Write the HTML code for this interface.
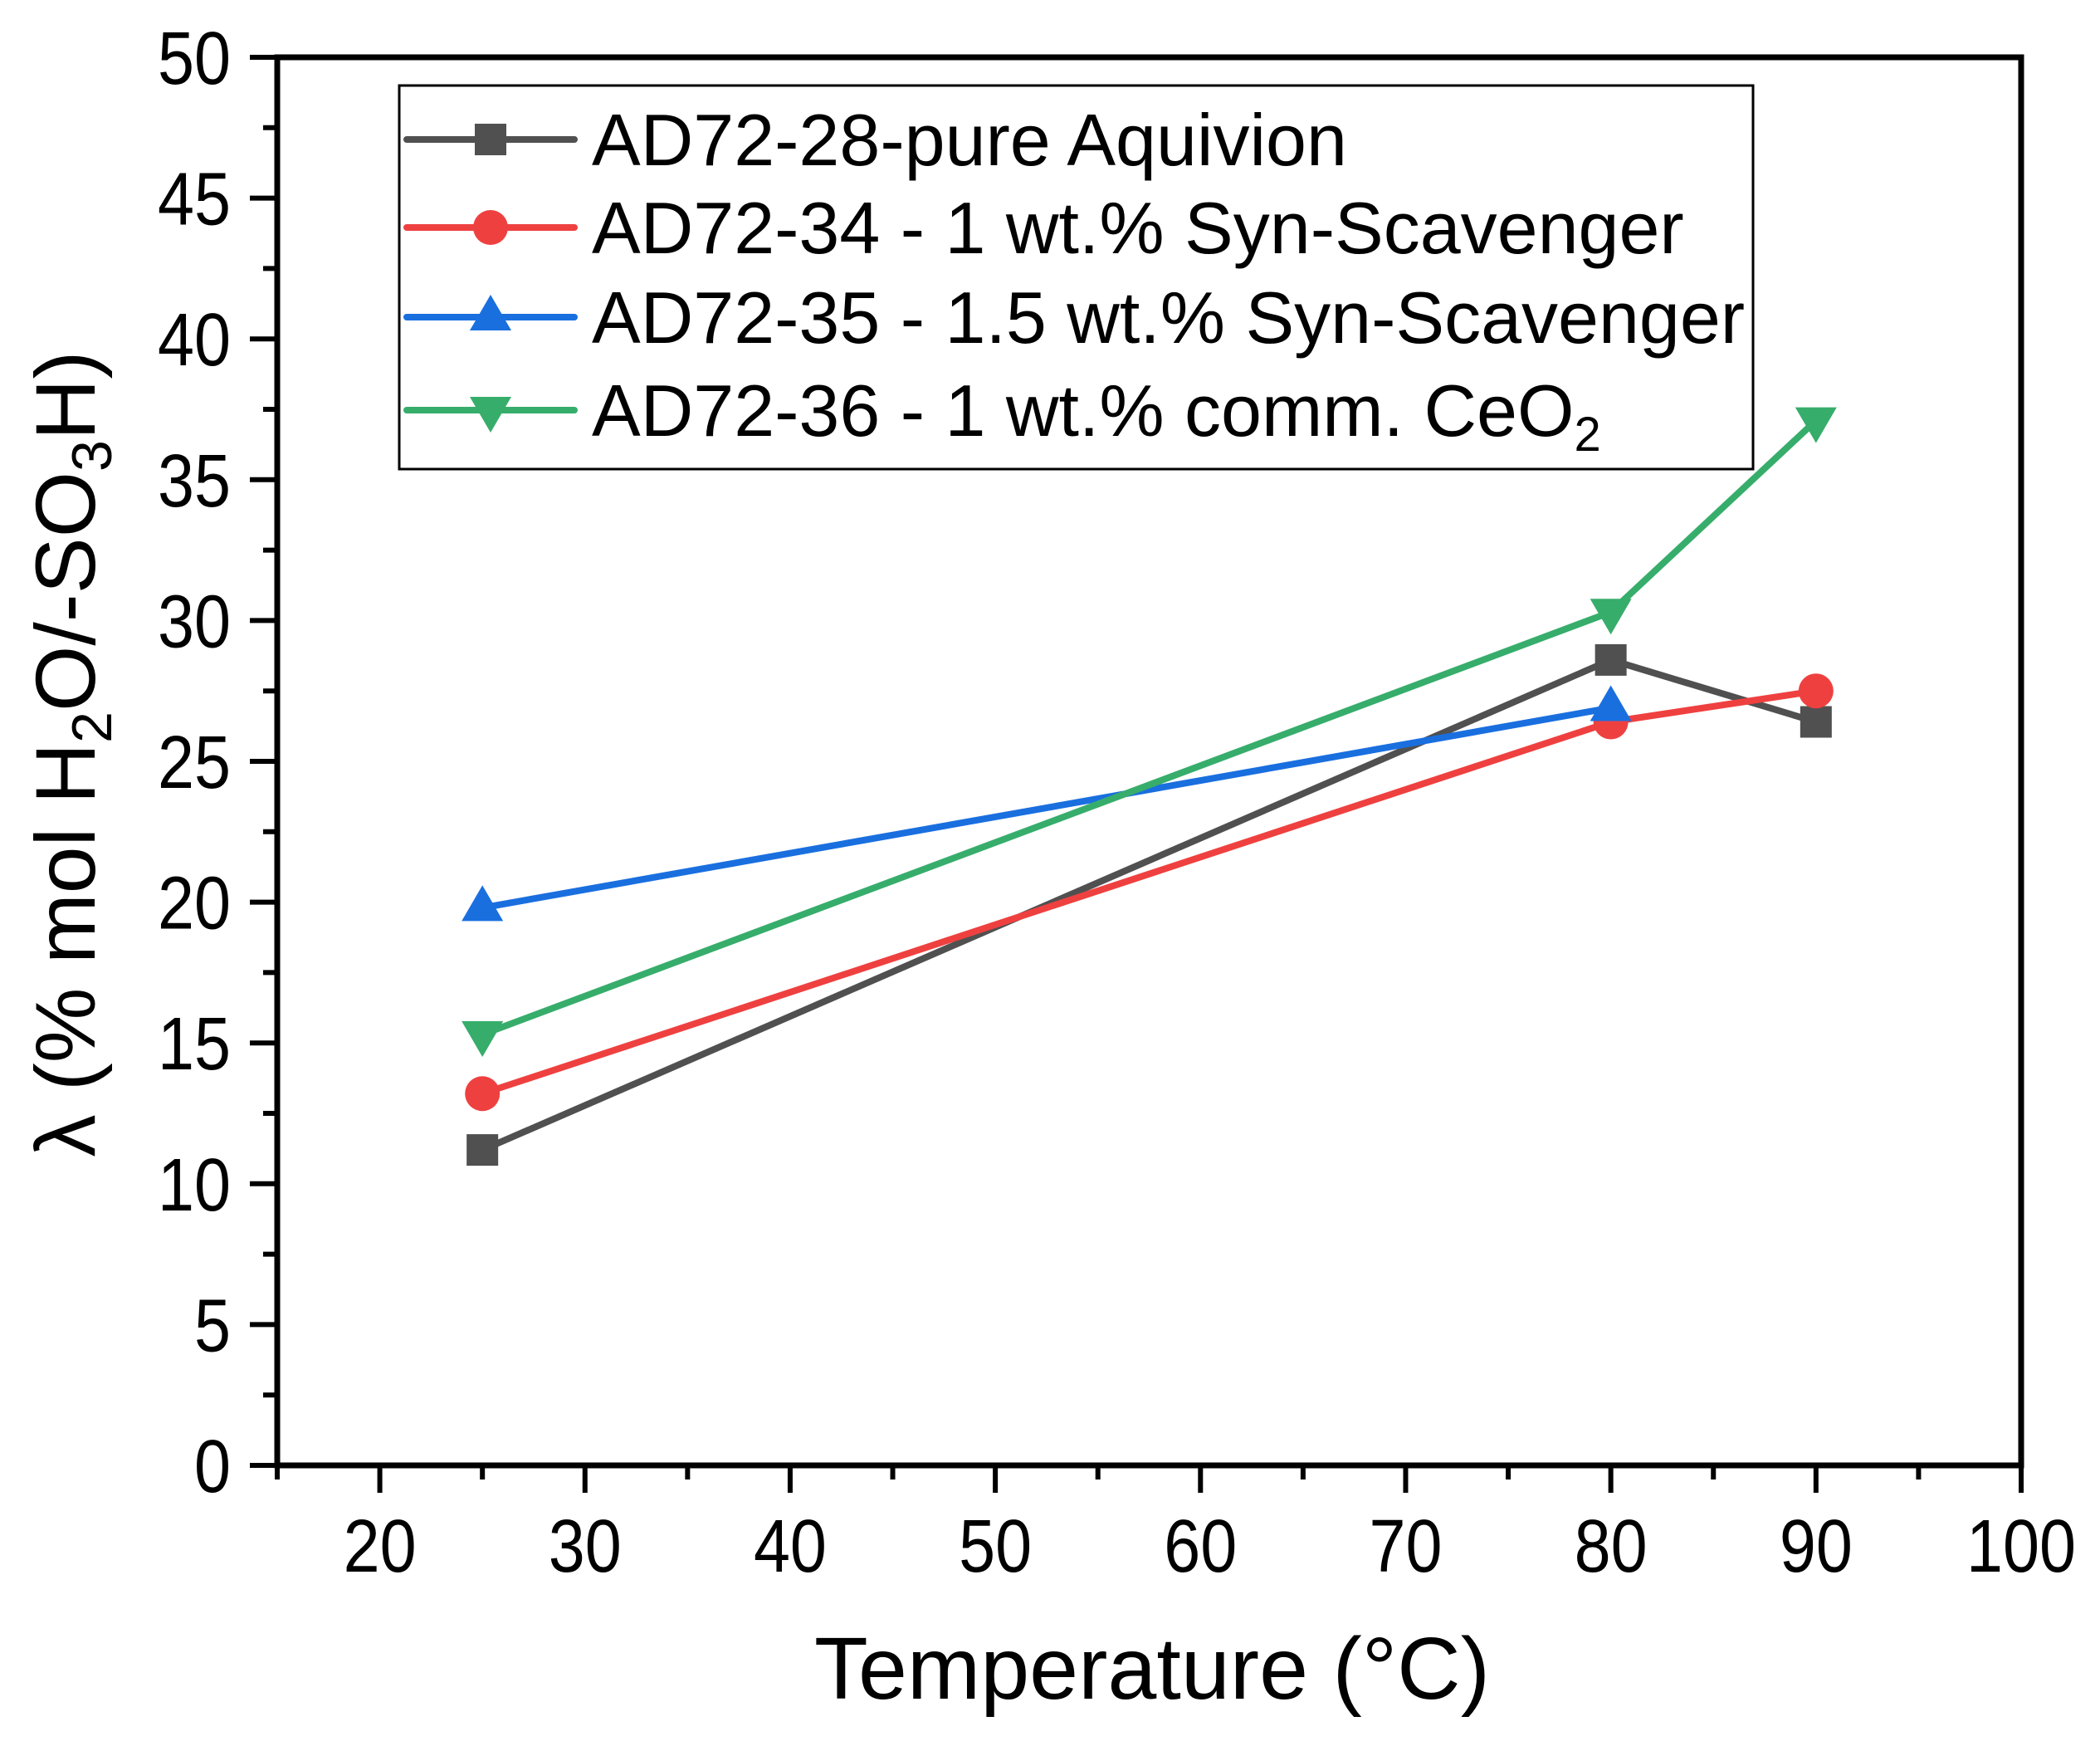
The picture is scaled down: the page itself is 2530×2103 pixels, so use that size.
<!DOCTYPE html>
<html><head><meta charset="utf-8"><style>
html,body{margin:0;padding:0;background:#fff}
svg{display:block;font-family:"Liberation Sans",Arial,sans-serif}
</style></head><body>
<svg id="chart" width="2530" height="2103" viewBox="0 0 2530 2103" xmlns="http://www.w3.org/2000/svg">
<rect width="2530" height="2103" fill="#fff"/>
<g id="plot"></g>
<g id="axes"></g>
<text x="1388" y="2046" font-size="106" text-anchor="middle">Temperature (°C)</text>
<text transform="translate(114,908) rotate(-90)" font-size="102" text-anchor="middle">λ (% mol H<tspan font-size="68" dy="20">2</tspan><tspan dy="-20">O/-SO</tspan><tspan font-size="68" dy="20">3</tspan><tspan dy="-20">H)</tspan></text>
<g id="legend">
<rect x="481" y="103" width="1631" height="462" fill="#fff" stroke="#000" stroke-width="3"/>
</g>
</svg>
<script>
const xCategories = [25, 80, 90];
const seriesNames = ["AD72-28-pure Aquivion", "AD72-34 - 1 wt.% Syn-Scavenger", "AD72-35 - 1.5 wt.% Syn-Scavenger", "AD72-36 - 1 wt.% comm. CeO2"];
const seriesBlack = [11.2, 28.6, 26.4];
const seriesRed = [13.2, 26.4, 27.5];
const seriesBlue = [19.8, 26.9];
const seriesGreen = [15.3, 30.3, 37.1];
const xTicks = [20, 30, 40, 50, 60, 70, 80, 90, 100];
const yTicks = [0, 5, 10, 15, 20, 25, 30, 35, 40, 45, 50];

const NS = "http://www.w3.org/2000/svg";
const L = 334, R = 2435, T = 69, B = 1765;
const xMin = 15, xMax = 100, yMin = 0, yMax = 50;
function xs(v){ return L + (v - xMin) / (xMax - xMin) * (R - L); }
function ys(v){ return B - (v - yMin) / (yMax - yMin) * (B - T); }
function mk(tag, attrs, parent){ const e = document.createElementNS(NS, tag); for (const k in attrs) e.setAttribute(k, attrs[k]); parent.appendChild(e); return e; }

const axes = document.getElementById('axes');
const plot = document.getElementById('plot');
const legend = document.getElementById('legend');

const frame = mk('rect', {x:L, y:T, width:R-L, height:B-T, fill:'none', stroke:'#000', 'stroke-width':7}, axes);



for (let v = 15; v <= 100; v += 5) {
  const major = v % 10 === 0;
  const t = mk('line', {x1:xs(v), x2:xs(v), y1:B, y2:B + (major ? 33 : 17), stroke:'#000', 'stroke-width':6}, axes);
  
  
}
xTicks.forEach(v => {
  const s = String(v);
  const tx = mk('text', {x:xs(v), y:1893, 'font-size':90, 'text-anchor':'middle', textLength:s.length*44, lengthAdjust:'spacingAndGlyphs'}, axes);
  tx.textContent = s;
  
  
});
for (let v = 0; v <= 50; v += 2.5) {
  const major = v % 5 === 0;
  const t = mk('line', {x1:L, x2:L - (major ? 33 : 17), y1:ys(v), y2:ys(v), stroke:'#000', 'stroke-width':6}, axes);
  
  
}
yTicks.forEach(v => {
  const s = String(v);
  const tx = mk('text', {x:278, y:ys(v) + 32, 'font-size':90, 'text-anchor':'end', textLength:s.length*44, lengthAdjust:'spacingAndGlyphs'}, axes);
  tx.textContent = s;
  
  
});

const colors = ['#505050', '#ef4040', '#1a6fdf', '#37ad6b'];
const shapes = ['square', 'circle', 'up', 'down'];
const allSeries = [seriesBlack, seriesRed, seriesBlue, seriesGreen];
const seriesKeys = ['aquivion', 'syn-1', 'syn-1-5', 'ceo2'];

function marker(shape, cx, cy, color, parent){
  let e;
  if (shape === 'square') e = mk('rect', {x:cx-19, y:cy-19, width:38, height:38, fill:color}, parent);
  else if (shape === 'circle') e = mk('circle', {cx:cx, cy:cy, r:21, fill:color}, parent);
  else if (shape === 'up') e = mk('polygon', {points:`${cx},${cy-27} ${cx+25},${cy+16} ${cx-25},${cy+16}`, fill:color}, parent);
  else e = mk('polygon', {points:`${cx},${cy+27} ${cx+25},${cy-16} ${cx-25},${cy-16}`, fill:color}, parent);
  return e;
}

allSeries.forEach((vals, si) => {
  const g = mk('g', {}, plot);
  
  
  const pts = vals.map((v, i) => xs(xCategories[i]) + ',' + ys(v)).join(' ');
  const line = mk('polyline', {points:pts, fill:'none', stroke:colors[si], 'stroke-width':8, 'stroke-linejoin':'round'}, g);
  
  
  vals.forEach((v, i) => {
    const m = marker(shapes[si], xs(xCategories[i]), ys(v), colors[si], g);
    
    
  });
});

const rowY = [168, 274, 382, 494];
seriesNames.forEach((name, si) => {
  const g = mk('g', {}, legend);
  
  
  const y = rowY[si];
  mk('line', {x1:490, x2:692, y1:y, y2:y, stroke:colors[si], 'stroke-width':8, 'stroke-linecap':'round'}, g);
  marker(shapes[si], 591, y, colors[si], g);
  const tx = mk('text', {x:713, y:y + 31, 'font-size':88}, g);
  if (si === 3) {
    tx.textContent = 'AD72-36 - 1 wt.% comm. CeO';
    const sub = mk('tspan', {'font-size':58, dy:18}, tx);
    sub.textContent = '2';
  } else {
    tx.textContent = name;
  }
});
</script>
</body></html>
